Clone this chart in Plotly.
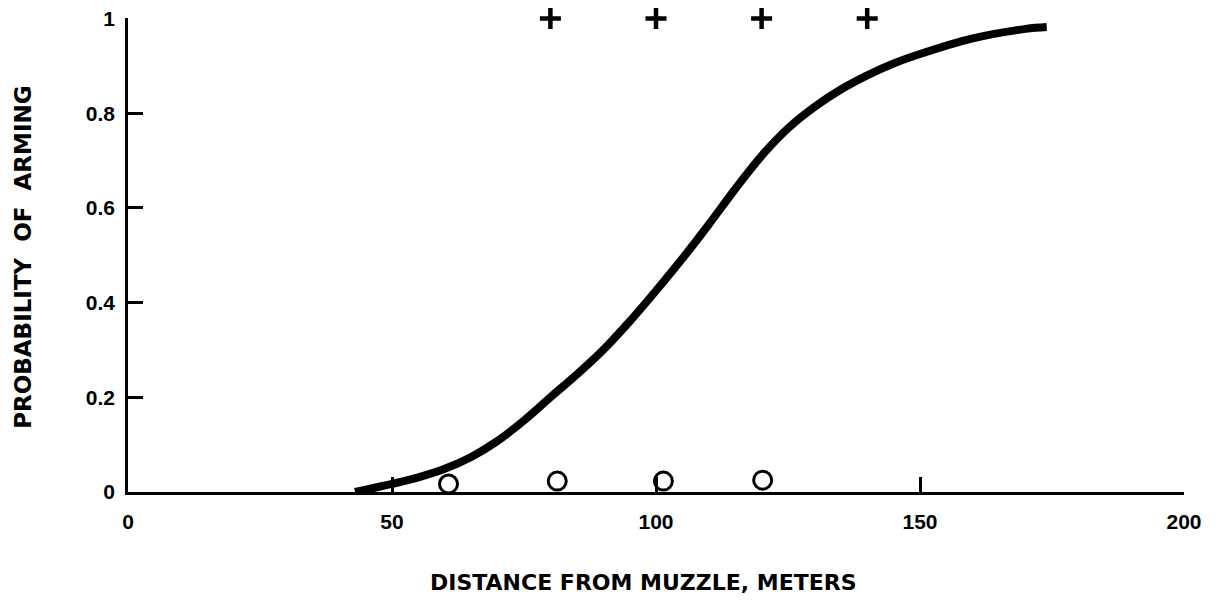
import plotly.graph_objects as go

# fitted arming curve
curve_x = [43, 50, 55, 60, 65, 70, 75, 80, 85, 90, 95, 100, 105, 110, 115, 120, 125, 130,
           135, 140, 145, 150, 160, 170, 174]
curve_y = [0.0, 0.017, 0.031, 0.049, 0.074, 0.108, 0.151, 0.20, 0.248, 0.30, 0.36, 0.425,
           0.493, 0.565, 0.64, 0.71, 0.768, 0.813, 0.85, 0.88, 0.905, 0.925, 0.958, 0.978, 0.982]

# armed rounds (+)
armed_x = [80, 100, 120, 140]
armed_y = [1.0, 1.0, 1.0, 1.0]

# unarmed rounds (o)
dud_x = [60.7, 81.3, 101.4, 120.2]
dud_y = [0.017, 0.023, 0.023, 0.025]

x_ticks = [0, 50, 100, 150, 200]
y_ticks = [0, 0.2, 0.4, 0.6, 0.8, 1]
y_tick_text = ["0", "0.2", "0.4", "0.6", "0.8", "1"]

tick_font = "Liberation Sans, Arial, sans-serif"
title_font = "DejaVu Sans, Liberation Sans, sans-serif"

fig = go.Figure()
fig.add_trace(
    go.Scatter(x=curve_x,
               y=curve_y,
               mode='lines',
               line=dict(color='black', width=8, shape='spline', smoothing=1.0),
               cliponaxis=False))
fig.add_trace(
    go.Scatter(x=armed_x,
               y=armed_y,
               mode='markers',
               marker=dict(symbol='cross-thin', size=15,
                           line=dict(color='black', width=4.5)),
               cliponaxis=False))
fig.add_trace(
    go.Scatter(x=dud_x,
               y=dud_y,
               mode='markers',
               marker=dict(symbol='circle-open', size=18, color='black',
                           line=dict(color='black', width=3)),
               cliponaxis=False))

fig.update_layout(width=1217,
                  height=601,
                  paper_bgcolor='white',
                  plot_bgcolor='white',
                  showlegend=False,
                  margin=dict(l=120, r=41, t=10, b=117),
                  font=dict(family=tick_font, size=21, color='black'))

fig.update_xaxes(range=[0, 200],
                 tickvals=x_ticks,
                 ticks='inside',
                 ticklen=15,
                 tickwidth=2.5,
                 tickcolor='black',
                 showline=True,
                 linecolor='black',
                 linewidth=2.5,
                 showgrid=False,
                 zeroline=False,
                 automargin=False,
                 ticklabelstandoff=9,
                 ticklabeloverflow='allow',
                 tickfont=dict(family=tick_font, size=21, weight='bold'))
fig.update_yaxes(range=[0, 1.001],
                 tickvals=y_ticks,
                 ticktext=y_tick_text,
                 ticks='inside',
                 ticklen=15,
                 tickwidth=2.5,
                 tickcolor='black',
                 showline=True,
                 linecolor='black',
                 linewidth=2.5,
                 showgrid=False,
                 zeroline=False,
                 automargin=False,
                 ticklabelstandoff=6,
                 ticklabeloverflow='allow',
                 tickfont=dict(family=tick_font, size=21, weight='bold'))

fig.add_annotation(text="DISTANCE FROM MUZZLE, METERS",
                   xref='paper', yref='paper',
                   x=0.488, y=-0.19,
                   xanchor='center', yanchor='middle',
                   showarrow=False,
                   font=dict(family=title_font, size=22, weight='bold'))
fig.add_annotation(text="PROBABILITY\u00a0 OF\u00a0 ARMING",
                   xref='paper', yref='paper',
                   x=-0.099, y=0.495,
                   xanchor='center', yanchor='middle',
                   textangle=-90,
                   showarrow=False,
                   font=dict(family=title_font, size=23, weight='bold'))

fig.write_html("out.html")
